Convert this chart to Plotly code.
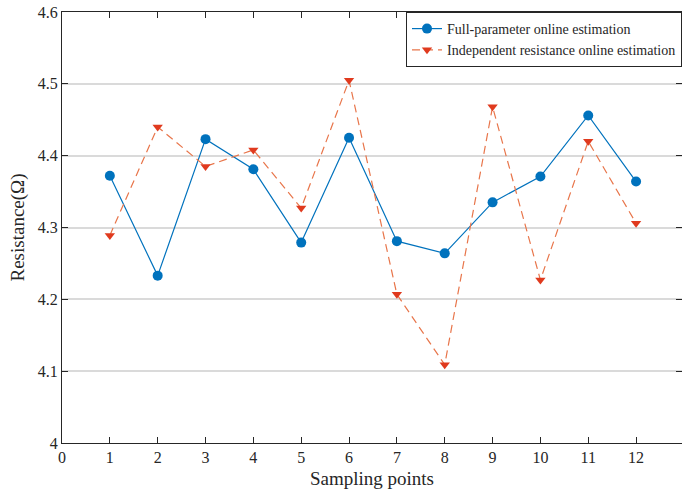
import plotly.graph_objects as go

sampling_points = [1, 2, 3, 4, 5, 6, 7, 8, 9, 10, 11, 12]
full_param = [4.372, 4.233, 4.423, 4.381, 4.279, 4.425, 4.281, 4.264, 4.335, 4.371, 4.456, 4.364]
indep_res = [4.289, 4.440, 4.385, 4.408, 4.327, 4.505, 4.207, 4.109, 4.468, 4.227, 4.420, 4.306]
x_ticks = list(range(0, 13))
y_ticks = [4.0, 4.1, 4.2, 4.3, 4.4, 4.5, 4.6]
y_tick_labels = ["4", "4.1", "4.2", "4.3", "4.4", "4.5", "4.6"]

FONT = "Liberation Serif, Times New Roman, serif"

fig = go.Figure()
fig.add_trace(go.Scatter(
    x=sampling_points, y=full_param, mode="lines+markers",
    name="Full-parameter online estimation",
    line=dict(color="#0072BD", width=1.2),
    marker=dict(symbol="circle", size=10, color="#0072BD"),
))
fig.add_trace(go.Scatter(
    x=sampling_points, y=indep_res, mode="lines+markers",
    name="Independent resistance online estimation",
    line=dict(color="#E8754A", width=1.2, dash="8px,5px"),
    marker=dict(symbol="triangle-down", size=9, color="#E03A1E"),
))

axis_common = dict(
    showline=True, linecolor="#262626", linewidth=1.2, mirror="ticks",
    ticks="inside", ticklen=6, tickcolor="#262626", tickwidth=1,
    tickfont=dict(family=FONT, size=16, color="#262626"),
    zeroline=False,
)

fig.update_layout(
    width=682, height=494,
    margin=dict(l=62, r=0, t=12, b=51),
    paper_bgcolor="white", plot_bgcolor="white",
    font=dict(family=FONT, color="#262626"),
    xaxis=dict(
        range=[0, 12.96], tickmode="array", tickvals=x_ticks,
        showgrid=False,
        title=dict(text="Sampling points", font=dict(family=FONT, size=19, color="#262626"), standoff=6),
        **axis_common,
    ),
    yaxis=dict(
        range=[4.0, 4.6], tickmode="array", tickvals=y_ticks, ticktext=y_tick_labels,
        showgrid=True, gridcolor="#DADADA", gridwidth=1.5,
        title=dict(text="Resistance(Ω)", font=dict(family=FONT, size=19, color="#262626"), standoff=8),
        **axis_common,
    ),
    legend=dict(
        x=1.0, xanchor="right", y=1.0, yanchor="top",
        bgcolor="white", bordercolor="#262626", borderwidth=1,
        font=dict(family=FONT, size=14, color="#262626"),
        tracegroupgap=0, itemwidth=30,
    ),
    showlegend=True,
)

fig.write_html("out.html")
